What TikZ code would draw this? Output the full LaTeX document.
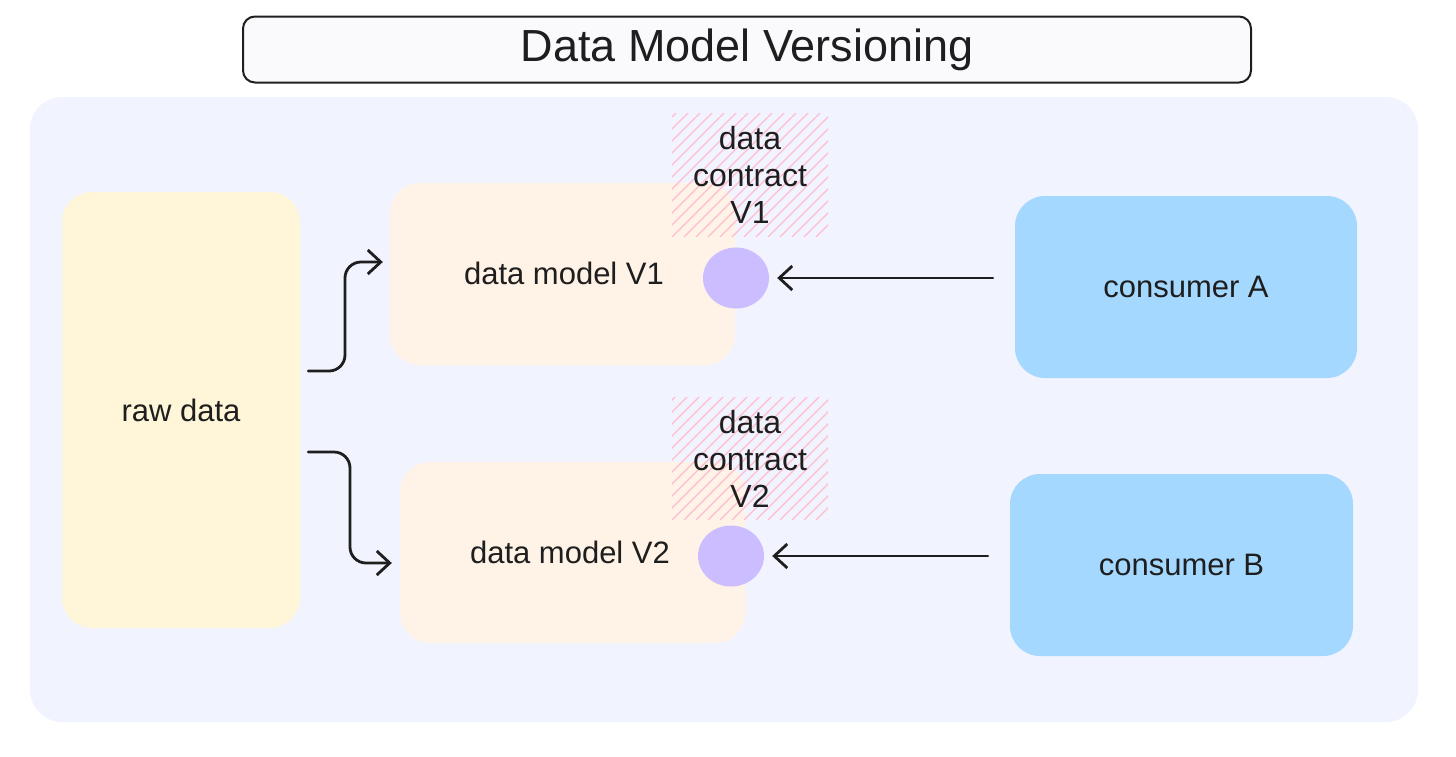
\documentclass[tikz,border=0pt]{standalone}
\usepackage{fontspec}
\setmainfont{Liberation Sans}
\usetikzlibrary{arrows.meta,shapes.geometric,calc}
\definecolor{panelbg}{HTML}{F1F4FF}
\definecolor{rawfill}{HTML}{FFF5D9}
\definecolor{modelfill}{HTML}{FFF3E7}
\definecolor{consfill}{HTML}{A5D8FF}
\definecolor{dotfill}{HTML}{CBBDFF}
\definecolor{hatchpink}{HTML}{FFBCCE}
\definecolor{titlefill}{HTML}{FAFAFD}
\definecolor{ink}{HTML}{1E1E1E}
\tikzset{
  boxbase/.style={rounded corners=30pt, inner sep=0pt, text=ink, font=\fontsize{31}{36}\selectfont},
  rawbox/.style={boxbase, fill=rawfill},
  modelbox/.style={boxbase, fill=modelfill},
  consbox/.style={boxbase, fill=consfill},
  dot/.style={ellipse, fill=dotfill, inner sep=0pt, minimum width=66pt, minimum height=61pt},
  contract/.style={align=center, text=ink, font=\fontsize{32}{37}\selectfont},
  label/.style={text=ink, font=\fontsize{31}{36}\selectfont},
  conn/.style={draw=ink, line width=2.8pt, rounded corners=16pt, line cap=round,
    -{Straight Barb[length=13pt,width=24pt,line width=2.8pt]}},
  hatchline/.style={draw=hatchpink, line width=1.3pt},
}
\begin{document}
\begin{tikzpicture}[x=1pt,y=-1pt]
\useasboundingbox (0,0) rectangle (1456,756);
% panel
\fill[panelbg, rounded corners=32pt] (30,97) rectangle (1418,722);
% title
\node[draw=ink, line width=2pt, fill=titlefill, rounded corners=12pt,
  minimum width=1008pt, minimum height=66pt, inner sep=0pt,
  text=ink, font=\fontsize{45}{50}\selectfont] (title) at (747,49.5) {Data Model Versioning};
% boxes
\node[rawbox, minimum width=238pt, minimum height=436pt] (raw) at (181,410) {raw data};
\node[modelbox, minimum width=345pt, minimum height=182pt] (m1) at (562.5,274) {};
\node[modelbox, minimum width=345pt, minimum height=181pt] (m2) at (572.5,552.5) {};
\node[consbox, minimum width=342pt, minimum height=182pt] (cA) at (1186,287) {consumer A};
\node[consbox, minimum width=343pt, minimum height=182pt] (cB) at (1181.5,565) {consumer B};
\node[label] (m1t) at (564,273) {data model V1};
\node[label] (m2t) at (570,552) {data model V2};
% hatches
\begin{scope}
  \clip (672,113) rectangle (828,237);
  \foreach \i in {-12,...,14} { \draw[hatchline] ({672+\i*12},237) -- ++(140,-140); }
\end{scope}
\begin{scope}
  \clip (672,397) rectangle (828,520);
  \foreach \i in {-12,...,14} { \draw[hatchline] ({672+\i*12},520) -- ++(140,-140); }
\end{scope}
\node[contract] (k1) at (750,175) {data\\contract\\V1};
\node[contract] (k2) at (750,459) {data\\contract\\V2};
% dots
\node[dot] (d1) at (736,278) {};
\node[dot] (d2) at (731,556) {};
% connectors
\coordinate (s1) at ($(raw.east)+(8,-39)$);
\coordinate (e1) at ($(m1.west)+(-7,-12)$);
\coordinate (s2) at ($(raw.east)+(8,42)$);
\coordinate (e2) at ($(m2.west)+(-8,10.5)$);
\draw[conn] (s1) -- (345,371) -- (345,262) -- (e1);
\draw[conn] (s2) -- (350,452) -- (350,563) -- (e2);
\draw[conn] ($(cA.west|-d1)+(-22,0)$) -- ($(d1.east)+(8,0)$);
\draw[conn] ($(cB.west|-d2)+(-22,0)$) -- ($(d2.east)+(8,0)$);
\end{tikzpicture}
\end{document}
